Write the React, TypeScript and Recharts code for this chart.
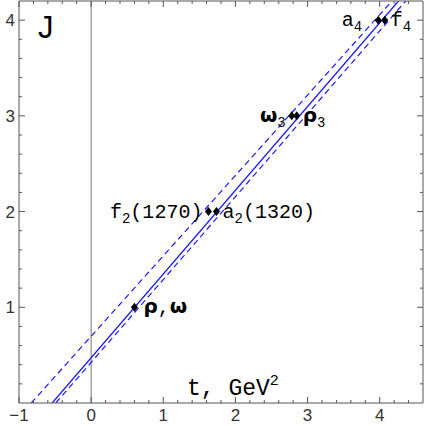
import React from "react";
import {
  ComposedChart,
  Line,
  Scatter,
  XAxis,
  YAxis,
  ReferenceLine,
} from "recharts";

// Regge trajectory: J versus t (GeV^2)
const xTicks = [
  -1, -0.8, -0.6, -0.4, -0.2, 0, 0.2, 0.4, 0.6, 0.8, 1, 1.2, 1.4, 1.6, 1.8, 2,
  2.2, 2.4, 2.6, 2.8, 3, 3.2, 3.4, 3.6, 3.8, 4, 4.2, 4.4,
];
const yTicks = [
  0.2, 0.4, 0.6, 0.8, 1, 1.2, 1.4, 1.6, 1.8, 2, 2.2, 2.4, 2.6, 2.8, 3, 3.2,
  3.4, 3.6, 3.8, 4,
];

// mesons drawn with their label on the left of the marker
const leftStates = [
  { name: "f_2(1270)", t: 1.626, J: 2 },
  { name: "ω_3", t: 2.78, J: 3 },
  { name: "a_4", t: 3.98, J: 4 },
];
// mesons drawn with their label on the right of the marker
const rightStates = [
  { name: "ρ,ω", t: 0.6, J: 1 },
  { name: "a_2(1320)", t: 1.737, J: 2 },
  { name: "ρ_3", t: 2.85, J: 3 },
  { name: "f_4", t: 4.07, J: 4 },
];

// trajectories, end points read where they leave the frame
const solidTraj = [
  { t: -0.54, J: 0 },
  { t: 4.26, J: 4.2 },
];
const upperDashed = [
  { t: -0.83, J: 0 },
  { t: 4.17, J: 4.2 },
];
const lowerDashed = [
  { t: -0.49, J: 0 },
  { t: 4.36, J: 4.2 },
];

const labelNudge: Record<string, number> = { a_4: -10 };

const FRAME = "#555";
const BLUE = "#1a1aff";
const MONO = "'Liberation Mono', 'DejaVu Sans Mono', monospace";
const GREEK = "'DejaVu Sans', sans-serif";
const SANS = "'Liberation Sans', Arial, sans-serif";

const isMajor = (v: number) => Math.abs(v - Math.round(v)) < 1e-6;

const renderName = (name: string) => {
  const parts: React.ReactNode[] = [];
  let shifted = false;
  for (let i = 0; i < name.length; i++) {
    const ch = name[i];
    if (ch === "_") {
      parts.push(
        <tspan key={i} fontSize={14} dy={5} fontFamily={MONO}>
          {name[i + 1]}
        </tspan>
      );
      shifted = true;
      i++;
      continue;
    }
    const greek = /[α-ω]/.test(ch);
    parts.push(
      <tspan
        key={i}
        fontSize={20}
        dy={shifted ? -5 : undefined}
        fontFamily={greek ? GREEK : MONO}
        fontWeight={greek ? "bold" : "normal"}
      >
        {ch}
      </tspan>
    );
    shifted = false;
  }
  return parts;
};

const makeShape = (side: "left" | "right") => (props: any) => {
  const { cx, cy, payload } = props;
  const nudge = labelNudge[payload.name] || 0;
  const gap = payload.name === "ρ,ω" ? 9 : 6;
  return (
    <g>
      <polygon
        points={`${cx},${cy - 4.5} ${cx + 3.5},${cy} ${cx},${cy + 4.5} ${cx - 3.5},${cy}`}
        fill="#000"
      />
      <text
        x={side === "left" ? cx - gap + nudge : cx + gap + nudge}
        y={cy + 6}
        textAnchor={side === "left" ? "end" : "start"}
        fill="#000"
      >
        {renderName(payload.name)}
      </text>
    </g>
  );
};

const BottomTick = (props: any) => {
  const { x, y, payload } = props;
  const v = payload.value;
  const major = isMajor(v);
  return (
    <g>
      <line x1={x} x2={x} y1={y} y2={y - (major ? 6 : 3)} stroke={FRAME} />
      {major && (
        <text x={x} y={y + 18} textAnchor="middle" fontSize={17} fontFamily={SANS} fill="#333">
          {v < 0 ? `\u2212${Math.abs(v)}` : v}
        </text>
      )}
    </g>
  );
};

const TopTick = (props: any) => {
  const { x, y, payload } = props;
  const major = isMajor(payload.value);
  return <line x1={x} x2={x} y1={y} y2={y + (major ? 6 : 3)} stroke={FRAME} />;
};

const LeftTick = (props: any) => {
  const { x, y, payload } = props;
  const v = payload.value;
  const major = isMajor(v);
  return (
    <g>
      <line x1={x} x2={x + (major ? 6 : 3)} y1={y} y2={y} stroke={FRAME} />
      {major && (
        <text x={x - 4} y={y + 6} textAnchor="end" fontSize={17} fontFamily={SANS} fill="#333">
          {v}
        </text>
      )}
    </g>
  );
};

const RightTick = (props: any) => {
  const { x, y, payload } = props;
  const major = isMajor(payload.value);
  return <line x1={x} x2={x - (major ? 6 : 3)} y1={y} y2={y} stroke={FRAME} />;
};

export default function App() {
  return (
    <div style={{ position: "absolute", left: 0, top: 0, background: "#fff" }}>
      <ComposedChart
        width={426}
        height={426}
        margin={{ top: 0, right: 2, bottom: 22, left: 18 }}
      >
        <XAxis
          type="number"
          dataKey="t"
          domain={[-1, 4.6]}
          ticks={xTicks}
          interval={0}
          height={1}
          tickSize={0}
          tickMargin={0}
          tickLine={false}
          axisLine={{ stroke: FRAME }}
          tick={BottomTick}
          allowDataOverflow
        />
        <XAxis
          xAxisId="top"
          orientation="top"
          type="number"
          dataKey="t"
          domain={[-1, 4.6]}
          ticks={xTicks}
          interval={0}
          height={1}
          tickSize={0}
          tickMargin={0}
          tickLine={false}
          axisLine={{ stroke: FRAME }}
          tick={TopTick}
          allowDataOverflow
        />
        <YAxis
          type="number"
          dataKey="J"
          domain={[0, 4.2]}
          ticks={yTicks}
          interval={0}
          width={1}
          tickSize={0}
          tickMargin={0}
          tickLine={false}
          axisLine={{ stroke: FRAME }}
          tick={LeftTick}
          allowDataOverflow
        />
        <YAxis
          yAxisId="right"
          orientation="right"
          type="number"
          dataKey="J"
          domain={[0, 4.2]}
          ticks={yTicks}
          interval={0}
          width={1}
          tickSize={0}
          tickMargin={0}
          tickLine={false}
          axisLine={{ stroke: FRAME }}
          tick={RightTick}
          allowDataOverflow
        />
        <ReferenceLine x={0} stroke="#777" strokeWidth={1} />
        <Line
          data={upperDashed}
          dataKey="J"
          stroke={BLUE}
          strokeWidth={1.2}
          strokeDasharray="6 4"
          dot={false}
          activeDot={false}
          isAnimationActive={false}
        />
        <Line
          data={lowerDashed}
          dataKey="J"
          stroke={BLUE}
          strokeWidth={1.2}
          strokeDasharray="6 4"
          dot={false}
          activeDot={false}
          isAnimationActive={false}
        />
        <Line
          data={solidTraj}
          dataKey="J"
          stroke={BLUE}
          strokeWidth={1.3}
          dot={false}
          activeDot={false}
          isAnimationActive={false}
        />
        <Scatter
          data={leftStates}
          dataKey="J"
          shape={makeShape("left")}
          isAnimationActive={false}
        />
        <Scatter
          data={rightStates}
          dataKey="J"
          shape={makeShape("right")}
          isAnimationActive={false}
        />
        <text x={38} y={38} fontSize={31} fontFamily={SANS} fill="#000">
          J
        </text>
        <text x={187} y={395} fontSize={23} fontFamily={MONO} fill="#000" style={{ whiteSpace: "pre" }}>
          {"t, GeV"}
          <tspan fontSize={15} dy={-10}>
            2
          </tspan>
        </text>
      </ComposedChart>
    </div>
  );
}
